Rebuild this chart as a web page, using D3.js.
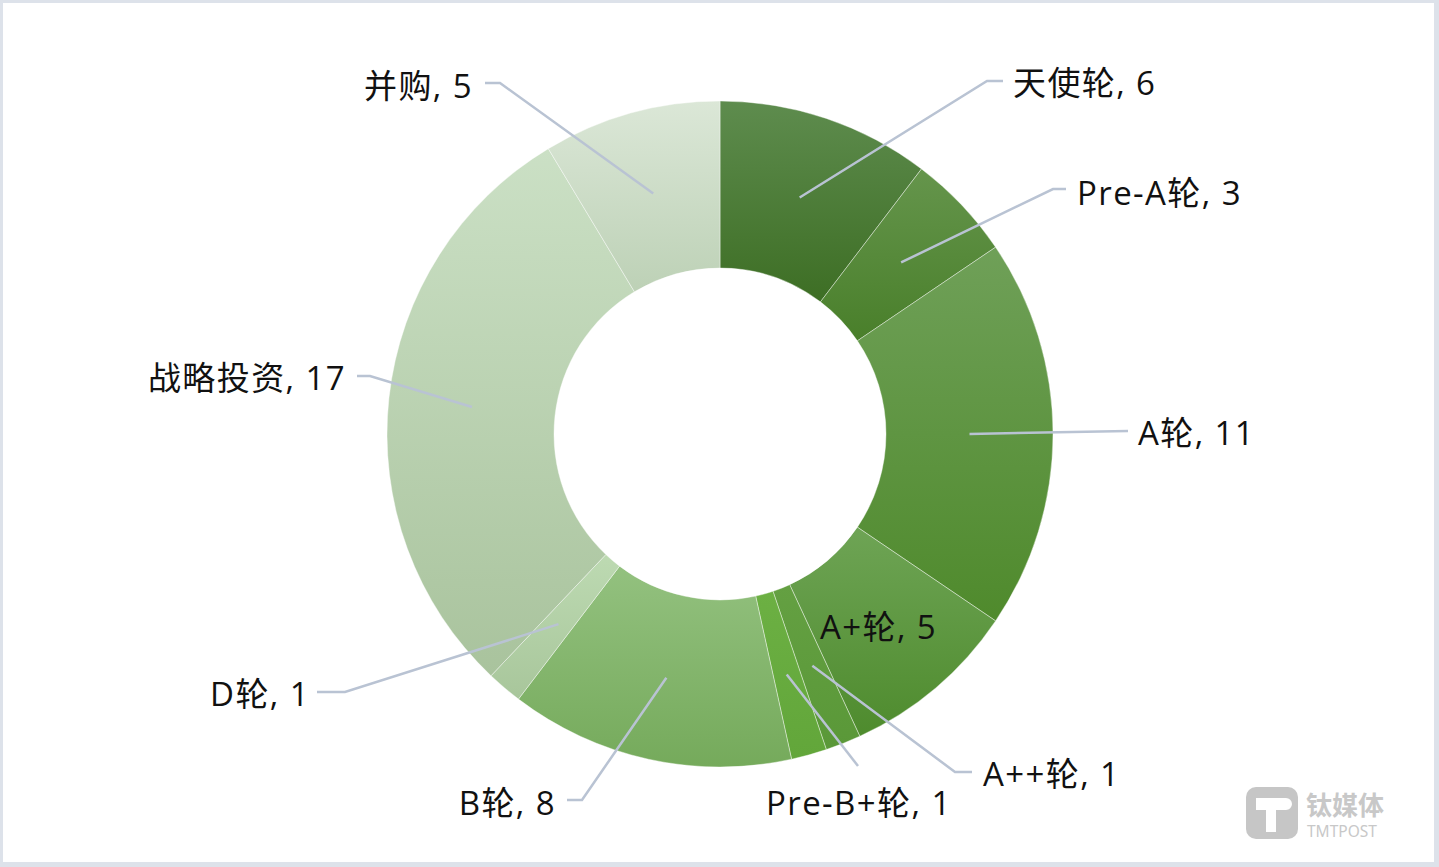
<!DOCTYPE html>
<html>
<head>
<meta charset="utf-8">
<script src="https://cdn.jsdelivr.net/npm/d3@7"></script>
<style>
  html, body { margin: 0; padding: 0; background: #fff; }
  svg { display: block; }
</style>
</head>
<body>
<svg id="chart" width="1439" height="867"></svg>
<script>
// ---- data ----
const categories = ["天使轮", "Pre-A轮", "A轮", "A+轮", "A++轮", "Pre-B+轮", "B轮", "D轮", "战略投资", "并购"];
const values = [6, 3, 11, 5, 1, 1, 8, 1, 17, 5];
const colorsTop = ["#5e8c4e", "#65954c", "#6fa058", "#6ea455", "#64a042", "#6cb043", "#93c17f", "#bddab2", "#cbe0c5", "#dbe7d7"];
const colorsBottom = ["#3d6e24", "#497f2a", "#4f8a2c", "#4e8b2d", "#5a9838", "#62a63a", "#75aa5b", "#a8c69b", "#a9c39d", "#bdd1b6"];

// ---- layout (label placement) ----
const labelLayout = [
  { elbow: [987, 81], end: [1003, 81], tx: 1013, ty: 82, anchor: "start", leader: true },
  { elbow: [1053, 189], end: [1066, 189], tx: 1077, ty: 192, anchor: "start", leader: true },
  { elbow: [1128, 431], end: [1128, 431], tx: 1138, ty: 432, anchor: "start", leader: true },
  { elbow: null, end: null, tx: 820, ty: 626, anchor: "start", leader: false },
  { elbow: [955, 772], end: [972, 772], tx: 983, ty: 773, anchor: "start", leader: true },
  { elbow: [858, 766], end: [858, 766], tx: 766, ty: 802, anchor: "start", leader: true },
  { elbow: [582, 800], end: [567, 800], tx: 556, ty: 802, anchor: "end", leader: true },
  { elbow: [345, 692], end: [317, 692], tx: 310, ty: 693, anchor: "end", leader: true },
  { elbow: [370, 376], end: [357, 376], tx: 346, ty: 377, anchor: "end", leader: true },
  { elbow: [500, 83], end: [485, 83], tx: 473, ty: 85, anchor: "end", leader: true }
];

const W = 1439, H = 867;
const cx = 720, cy = 434, rOuter = 333, rInner = 166;

const svg = d3.select("#chart");

// frame
svg.append("rect").attr("x", 0).attr("y", 0).attr("width", W).attr("height", H).attr("fill", "#dde2ea");
svg.append("rect").attr("x", 3).attr("y", 3).attr("width", W - 8).attr("height", H - 8).attr("fill", "#ffffff");

const defs = svg.append("defs");
categories.forEach((c, i) => {
  const g = defs.append("linearGradient").attr("id", "grad" + i)
    .attr("x1", 0).attr("y1", 0).attr("x2", 0).attr("y2", 1);
  g.append("stop").attr("offset", "0%").attr("stop-color", colorsTop[i]);
  g.append("stop").attr("offset", "100%").attr("stop-color", colorsBottom[i]);
});

const data = categories.map((c, i) => ({ name: c, value: values[i], i }));
const pie = d3.pie().value(d => d.value).sort(null);
const arcs = pie(data);
const arc = d3.arc().innerRadius(rInner).outerRadius(rOuter);

const g = svg.append("g").attr("transform", `translate(${cx},${cy})`);
g.selectAll("path.slice").data(arcs).enter().append("path")
  .attr("class", "slice")
  .attr("d", arc)
  .attr("fill", d => `url(#grad${d.data.i})`)
  .attr("stroke", "rgba(255,255,255,0.4)")
  .attr("stroke-width", 1);

// leaders
const lines = svg.append("g");
arcs.forEach(d => {
  const L = labelLayout[d.data.i];
  if (!L.leader) return;
  const c = arc.centroid(d);
  const p0 = [cx + c[0], cy + c[1]];
  lines.append("path")
    .attr("d", d3.line()([p0, L.elbow, L.end]))
    .attr("fill", "none")
    .attr("stroke", "#b9c3d3")
    .attr("stroke-width", 2.5);
});

// labels
const labels = svg.append("g");
arcs.forEach(d => {
  const L = labelLayout[d.data.i];
  labels.append("text")
    .attr("x", L.tx).attr("y", L.ty)
    .attr("text-anchor", L.anchor)
    .attr("dominant-baseline", "central")
    .attr("font-family", "'Open Sans', 'Noto Sans CJK SC', sans-serif")
    .attr("font-size", 33)
    .attr("letter-spacing", 1.4)
    .attr("fill", "#111")
    .text(`${d.data.name}, ${d.data.value}`);
});

// watermark
const wm = svg.append("g");
wm.append("rect").attr("x", 1246).attr("y", 787).attr("width", 52).attr("height", 52).attr("rx", 10)
  .attr("fill", "#c6c6c6");
wm.append("path")
  .attr("d", "M1256,798 h30 a6,6 0 0 1 0,12 h-10 v22 h-10 v-22 h-10 z")
  .attr("fill", "#ffffff");
wm.append("text").attr("x", 1306).attr("y", 815)
  .attr("font-family", "'Noto Sans CJK SC', sans-serif").attr("font-size", 26).attr("font-weight", "bold")
  .attr("fill", "#c8c8c8").text("钛媒体");
wm.append("text").attr("x", 1307).attr("y", 837)
  .attr("font-family", "'Noto Sans', sans-serif").attr("font-size", 15.5)
  .attr("fill", "#c8c8c8").text("TMTPOST");
</script>
</body>
</html>
